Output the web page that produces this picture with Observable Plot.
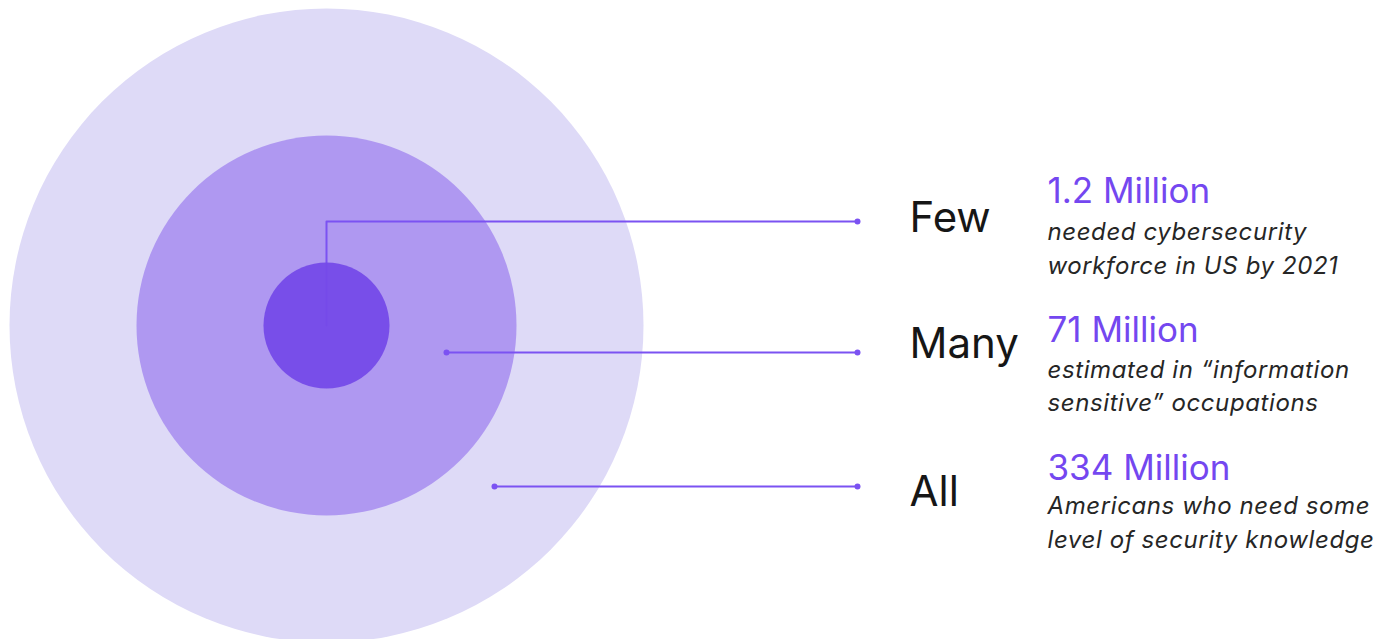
<!DOCTYPE html>
<html>
<head>
<meta charset="utf-8">
<script src="https://cdn.jsdelivr.net/npm/d3@7"></script>
<script src="https://cdn.jsdelivr.net/npm/@observablehq/plot@0.6"></script>
<style>
  html, body { margin: 0; padding: 0; background: #fff; }
  #chart svg { display: block; }
  .desc text { letter-spacing: 0.6px; }
</style>
</head>
<body>
<div id="chart"></div>
<script>
// ---- data ----
const categories = ["Few", "Many", "All"];
const values = ["1.2 Million", "71 Million", "334 Million"];
const descFirst = ["needed cybersecurity", "estimated in \u201cinformation", "Americans who need some"];
const descSecond = ["workforce in US by 2021", "sensitive\u201d occupations", "level of security knowledge"];

// ---- layout (diagram geometry, px) ----
const W = 1382, H = 639;
const cx = 326, cy = 325;
const ringR = {All: 317, Many: 190, Few: 63};
const ringFill = {All: "#dedaf7", Many: "#af98f1", Few: "#7549e8"};
const rowY = {Few: 221, Many: 352, All: 486};
const startX = {Few: cx, Many: 446, All: 494};
const endX = 857;
const labelX = 909, valueX = 1047;
const labelBase = {Few: 231, Many: 357, All: 505};
const valueBase = {Few: 202, Many: 341, All: 479};
const descBase1 = {Few: 239, Many: 377, All: 513};
const descBase2 = {Few: 273, Many: 410, All: 547};
const lineColor = "#7b52f2";

const rings = ["All", "Many"].map(k => ({k, x: cx, y: cy, r: ringR[k]}));
const inner = [{k: "Few", x: cx, y: cy, r: ringR.Few}];

const rows = categories.map((c, i) => ({
  c, value: values[i], d1: descFirst[i], d2: descSecond[i]
}));

const fewPath = [
  {x: cx, y: cy}, {x: cx, y: rowY.Few}, {x: endX, y: rowY.Few}
];
const straight = ["Many", "All"].map(c => ({c, x1: startX[c], x2: endX, y: rowY[c]}));
const dots = [
  ...["Many", "All"].map(c => ({x: startX[c], y: rowY[c]})),
  ...categories.map(c => ({x: endX, y: rowY[c]}))
];

const font = "Inter, 'Noto Sans', sans-serif";

const chart = Plot.plot({
  width: W,
  height: H,
  margin: 0,
  style: {background: "#fff", fontFamily: font},
  x: {domain: [0, W], range: [0, W], axis: null},
  y: {domain: [0, H], range: [0, H], axis: null},
  r: {type: "identity"},
  marks: [
    Plot.dot(rings, {x: "x", y: "y", r: "r", fill: d => ringFill[d.k], stroke: null}),
    Plot.line(fewPath, {x: "x", y: "y", stroke: lineColor, strokeWidth: 2}),
    Plot.dot(inner, {x: "x", y: "y", r: "r", fill: ringFill.Few, fillOpacity: 0.94, stroke: null}),
    Plot.link(straight, {x1: "x1", x2: "x2", y1: "y", y2: "y", stroke: lineColor, strokeWidth: 2}),
    Plot.dot(dots, {x: "x", y: "y", r: 3, fill: lineColor, stroke: null}),
    Plot.text(rows, {x: labelX, y: d => labelBase[d.c], text: "c", textAnchor: "start", lineAnchor: "bottom",
      fontSize: 42, fill: "#161616", fontFamily: font}),
    Plot.text(rows, {x: valueX, y: d => valueBase[d.c], text: "value", textAnchor: "start", lineAnchor: "bottom",
      fontSize: 35, fill: "#7447f0", fontFamily: font}),
    Plot.text(rows, {x: valueX, y: d => descBase1[d.c], text: "d1", textAnchor: "start", lineAnchor: "bottom",
      fontSize: 24, fontStyle: "italic", fill: "#262626", fontFamily: font, className: "desc"}),
    Plot.text(rows, {x: valueX, y: d => descBase2[d.c], text: "d2", textAnchor: "start", lineAnchor: "bottom",
      fontSize: 24, fontStyle: "italic", fill: "#262626", fontFamily: font, className: "desc"})
  ]
});
document.getElementById("chart").appendChild(chart);
</script>
</body>
</html>
